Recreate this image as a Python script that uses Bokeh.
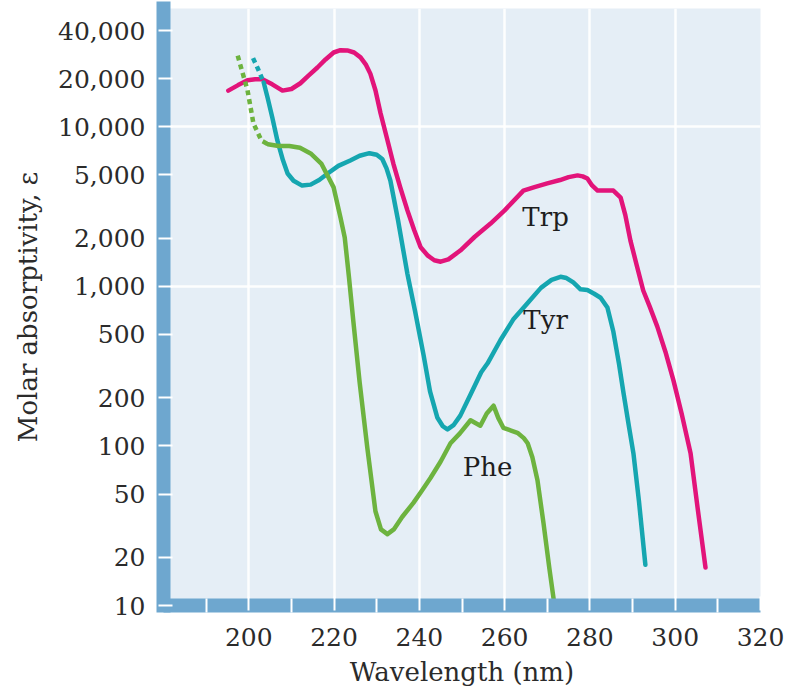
from bokeh.plotting import figure
from bokeh.models import FixedTicker, NumeralTickFormatter, Range1d, ColumnDataSource
from bokeh.core.properties import value
from bokeh.embed import file_html
from bokeh.resources import INLINE

# ---- data ----
trp_wl = [195.2, 197.5, 199.7, 201.5, 203.2, 205.5, 207.9, 210.0, 212.1, 214.0, 216.1, 218.0,
          219.9, 221.5, 223.1, 224.7, 226.2, 227.5, 228.5, 229.7, 230.9, 232.4, 233.9, 235.5,
          237.2, 238.8, 240.3, 242.0, 243.5, 245.0, 246.8, 249.6, 253.0, 256.7, 260.0, 264.4,
          267.0, 270.0, 273.0, 275.0, 277.1, 278.3, 279.4, 280.5, 281.8, 283.5, 285.5, 287.2,
          288.3, 289.5, 291.0, 292.5, 294.0, 295.8, 297.7, 299.6, 301.5, 303.6, 305.3, 307.1]
trp_eps = [16900, 18300, 19600, 19900, 19900, 18500, 16900, 17300, 18800, 21000, 23600, 26500,
           29300, 30300, 30200, 29300, 27300, 24500, 21600, 17000, 12200, 8500, 5900, 4200,
           3000, 2250, 1760, 1560, 1460, 1430, 1480, 1680, 2050, 2480, 3000, 3990,
           4200, 4430, 4650, 4850, 4970, 4900, 4750, 4300, 3990, 3990, 3990, 3610,
           2800, 1940, 1350, 944, 750, 560, 390, 257, 160, 90, 40, 17.3]

tyr_dash_wl = [201.0, 202.2, 203.5]
tyr_dash_eps = [27000, 23000, 19000]
tyr_wl = [203.5, 204.4, 205.5, 206.7, 208.0, 209.1, 210.5, 212.5, 214.5, 216.5, 218.5, 221.0,
          223.8, 226.0, 228.3, 230.0, 231.3, 232.3, 233.2, 235.0, 237.2, 239.0, 241.0, 242.5,
          244.2, 245.5, 246.6, 248.0, 249.6, 252.0, 254.5, 256.0, 259.0, 262.0, 265.3, 268.5,
          271.0, 273.1, 274.5, 276.1, 277.8, 279.4, 281.0, 282.5, 284.1, 285.5, 286.8, 287.9,
          289.0, 290.2, 291.5, 293.0]
tyr_eps = [19000, 15300, 11500, 8230, 6200, 5110, 4600, 4290, 4350, 4650, 5110, 5700,
           6170, 6600, 6850, 6700, 6300, 5500, 4620, 2600, 1200, 700, 370, 220,
           151, 133, 127, 135, 155, 210, 290, 330, 460, 620, 782, 980,
           1100, 1150, 1130, 1060, 960, 950, 900, 850, 738, 520, 330, 213,
           140, 90, 45, 18]

phe_dash_wl = [197.4, 199.7, 201.1, 203.0, 204.5]
phe_dash_eps = [28000, 17000, 10500, 8200, 7800]
phe_wl = [204.5, 207.0, 209.5, 212.0, 214.5, 217.0, 219.9, 221.5, 222.5, 223.5, 224.5, 226.0,
          227.8, 229.7, 231.0, 232.5, 234.0, 236.0, 238.6, 240.5, 242.6, 245.0, 247.3, 249.5,
          252.0, 254.3, 255.8, 257.4, 258.5, 259.7, 261.5, 263.0, 264.5, 265.4, 266.5, 267.7,
          269.1, 270.5, 271.7]
phe_eps = [7800, 7600, 7600, 7400, 6820, 5900, 4180, 2710, 2030, 1140, 612, 250,
           97, 39, 30, 28, 30, 36, 44, 52, 63, 80, 104, 120,
           145, 134, 160, 179, 150, 130, 125, 121, 112, 104, 85, 61,
           33, 17, 10]

label_names = ["Trp", "Tyr", "Phe"]
label_wl = [269.6, 269.6, 256.0]
label_eps = [2710, 612, 74]

y_ticks = [10, 20, 50, 100, 200, 500, 1000, 2000, 5000, 10000, 20000, 40000]
x_ticks = [200, 220, 240, 260, 280, 300, 320]
x_minor = [190, 210, 230, 250, 270, 290, 310]
y_grid = [1000, 10000]

# ---- styles ----
TRP = "#e2147a"
TYR = "#15a6b0"
PHE = "#6db33f"
BAR = "#6ea7cf"
BG = "#e5eef6"
FONT = "DejaVu Serif"

p = figure(width=788, height=694, y_axis_type="log",
           x_range=Range1d(180, 320), y_range=Range1d(10, 55300),
           output_backend="svg", toolbar_location=None,
           min_border_left=163, min_border_right=28, min_border_top=8, min_border_bottom=89)
p.background_fill_color = BG
p.border_fill_color = "white"
p.outline_line_color = None

# grids
p.xgrid.ticker = FixedTicker(ticks=x_ticks[:-1])
p.ygrid.ticker = FixedTicker(ticks=y_grid)
for g in (p.xgrid, p.ygrid):
    g.grid_line_color = "white"
    g.grid_line_width = 2.5
    g.grid_line_alpha = 0.9

# axes
for ax in (p.xaxis, p.yaxis):
    ax.axis_line_color = BAR
    ax.axis_line_width = 14
    ax.major_tick_line_color = "white"
    ax.major_tick_line_width = 2
    ax.major_tick_in = 9
    ax.major_tick_out = 5
    ax.minor_tick_line_color = "white"
    ax.minor_tick_line_width = 2
    ax.major_label_text_font = FONT
    ax.major_label_text_font_size = "25px"
    ax.major_label_text_color = "#2b2b2b"
    ax.major_label_standoff = 13
    ax.axis_label_text_font = FONT
    ax.axis_label_text_font_size = "26px"
    ax.axis_label_text_font_style = "normal"
    ax.axis_label_text_color = "#2b2b2b"

p.yaxis.axis_line_cap = "square"
p.xaxis.ticker = FixedTicker(ticks=x_ticks, minor_ticks=x_minor)
p.xaxis.minor_tick_in = 7
p.xaxis.minor_tick_out = 7
p.xaxis.major_label_standoff = 15
p.yaxis.ticker = FixedTicker(ticks=y_ticks, minor_ticks=[])
p.yaxis.formatter = NumeralTickFormatter(format="0,0")
p.xaxis.axis_label = "Wavelength (nm)"
p.yaxis.axis_label = "Molar absorptivity, ε"
p.xaxis.axis_label_standoff = 8
p.yaxis.axis_label_standoff = 12

LW = 4.5
p.line(trp_wl, trp_eps, line_color=TRP, line_width=LW, line_cap="round", line_join="round")
p.line(tyr_wl, tyr_eps, line_color=TYR, line_width=LW, line_cap="round", line_join="round")
p.line(tyr_dash_wl, tyr_dash_eps, line_color=TYR, line_width=LW, line_dash="5 4")
p.line(phe_wl, phe_eps, line_color=PHE, line_width=LW, line_cap="round", line_join="round")
p.line(phe_dash_wl, phe_dash_eps, line_color=PHE, line_width=LW, line_dash="5 4")

src = ColumnDataSource(dict(x=label_wl, y=label_eps, t=label_names))
p.text("x", "y", text="t", source=src, text_font=value(FONT), text_font_size="26px",
       text_align="center", text_baseline="middle", text_color="#1e1e1e")

open("out.html", "w").write(file_html(p, INLINE))
